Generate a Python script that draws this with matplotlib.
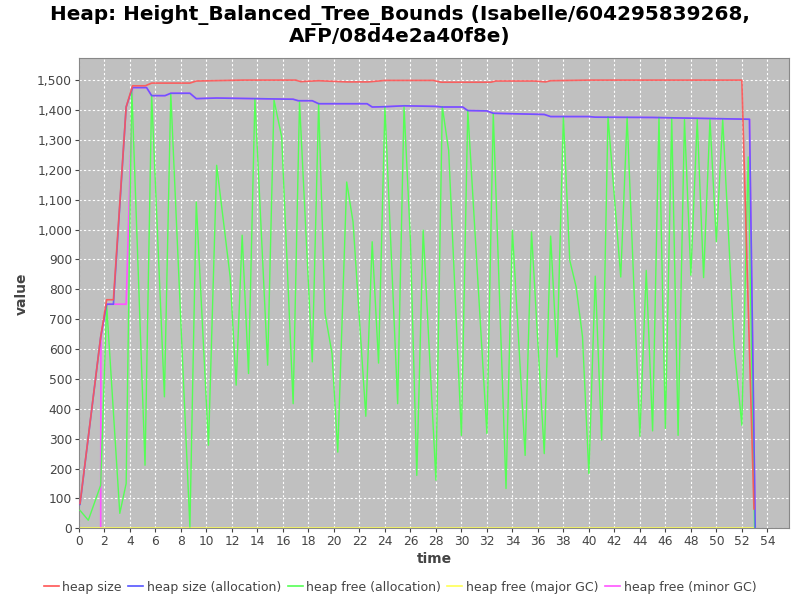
import matplotlib
matplotlib.use("Agg")
import matplotlib.pyplot as plt
from matplotlib.ticker import FuncFormatter, MultipleLocator

# ---- data ----
size_t = [0.08, 1.7, 2.17, 2.7, 3.7, 4.2, 5.2, 5.7, 8.7, 9.2, 12.9, 17.0, 17.4, 18.8,
          21.0, 22.7, 24.0, 27.8, 28.4, 32.3, 32.7, 35.7, 36.6, 37.0, 40.1, 52.0, 52.95]
size_v = [83, 640, 765, 765, 1410, 1481, 1481, 1490, 1490, 1497, 1500, 1500, 1495, 1498,
          1494, 1494, 1499, 1499, 1493, 1493, 1497, 1497, 1494, 1498, 1500, 1500, 65]

alloc_t = [0.08, 1.7, 2.17, 2.7, 3.7, 4.2, 5.3, 5.7, 6.75, 7.2, 8.7, 9.2, 10.8, 16.8, 17.2,
           18.3, 18.8, 22.6, 23.0, 24.0, 25.5, 28.0, 28.5, 30.1, 30.5, 32.0, 32.5, 36.5,
           37.0, 40.0, 40.5, 45.0, 52.6, 53.05]
alloc_v = [80, 640, 750, 750, 1410, 1475, 1475, 1448, 1448, 1456, 1456, 1438, 1440, 1436, 1431,
           1431, 1421, 1421, 1410, 1411, 1414, 1412, 1410, 1410, 1398, 1397, 1389, 1385,
           1378, 1378, 1376, 1375, 1369, 0]

free_t = [0.08, 0.73, 1.7, 2.17, 3.2, 3.7, 4.14, 5.18, 5.7, 6.7, 7.2, 8.7, 9.2, 10.16, 10.8,
          11.86, 12.33, 12.8, 13.3, 13.8, 14.8, 15.3, 15.9, 16.8, 17.3, 18.3, 18.8, 19.3,
          19.85, 20.3, 21.0, 21.5, 22.5, 23.0, 23.5, 24.0, 25.0, 25.5, 26.0, 26.5, 27.0,
          28.0, 28.5, 29.0, 30.0, 30.5, 32.0, 32.5, 33.5, 34.0, 35.0, 35.5, 36.5, 37.0,
          37.5, 38.0, 38.5, 39.0, 39.5, 40.0, 40.5, 41.0, 41.5, 42.5, 43.0, 44.0, 44.5,
          45.0, 45.5, 46.0, 46.5, 47.0, 47.5, 48.0, 48.5, 49.0, 49.5, 50.0, 50.5, 51.4,
          52.0, 52.5, 53.0]
free_v = [60, 27, 144, 747, 50, 150, 1473, 211, 1450, 440, 1455, 4, 1092, 278, 1215,
          841, 479, 981, 518, 1438, 546, 1433, 1310, 417, 1427, 557, 1422, 719,
          585, 255, 1159, 1025, 375, 959, 553, 1411, 417, 1411, 964, 177, 998,
          161, 1411, 1265, 311, 1399, 317, 1388, 133, 998, 244, 992, 250, 978,
          573, 1378, 897, 808, 641, 183, 844, 295, 1378, 841, 1376, 308, 863,
          326, 1376, 334, 1372, 311, 1368, 847, 1368, 839, 1368, 959, 1368, 607,
          345, 1243, 0]

major_t = [0.08, 53.0]
major_v = [0, 0]

minor_t = [1.7, 1.72, 2.17, 3.7] + alloc_t[5:]
minor_v = [0, 640, 750, 750] + alloc_v[5:]

labels = ["heap size", "heap size (allocation)", "heap free (allocation)",
          "heap free (major GC)", "heap free (minor GC)"]
colors = ["#ff5555", "#5555ff", "#55ff55", "#ffff55", "#ff55ff"]

# ---- plot ----
fig = plt.figure(figsize=(8, 6), dpi=100)
ax = fig.add_axes([79/800, 1-528.3/600, (789-79)/800, (528.3-58.3)/600])
ax.set_facecolor("#c0c0c0")

ax.plot(minor_t, minor_v, color=colors[4], lw=1.2, zorder=2)
ax.plot(major_t, major_v, color=colors[3], lw=1.2, zorder=2)
ax.plot(free_t, free_v, color=colors[2], lw=1.0, zorder=3)
ax.plot(alloc_t, alloc_v, color=colors[1], lw=1.2, alpha=0.85, zorder=4)
ax.plot(size_t, size_v, color=colors[0], lw=1.2, alpha=0.9, zorder=5)

ax.set_xlim(0, 55.7)
ax.set_ylim(0, 1573)
ax.xaxis.set_major_locator(MultipleLocator(2))
ax.yaxis.set_major_locator(MultipleLocator(100))
ax.yaxis.set_major_formatter(FuncFormatter(lambda v, p: f"{int(v):,}"))
ax.grid(True, color="white", linestyle=(0, (2, 2)), linewidth=0.8)
ax.set_axisbelow(True)
ax.tick_params(labelsize=8.8, colors="#444444", length=3, pad=2)
for s in ax.spines.values():
    s.set_color("#888888")

ax.set_xlabel("time", fontsize=10, fontweight="bold", color="#444444", labelpad=3)
ax.set_ylabel("value", fontsize=10, fontweight="bold", color="#444444", labelpad=6)

fig.suptitle("Heap: Height_Balanced_Tree_Bounds (Isabelle/604295839268,\nAFP/08d4e2a40f8e)",
             fontsize=14.4, fontweight="bold", y=0.992, linespacing=1.12)

handles = [plt.Line2D([], [], color=c, lw=1.2) for c in colors]
fig.legend(handles, labels, loc="center", ncol=5, frameon=False,
           fontsize=9, handlelength=1.2, handletextpad=0.3, columnspacing=0.5,
           bbox_to_anchor=(0.5, 1-587/600), labelcolor="#444444")

fig.savefig("out.png", dpi=100)
